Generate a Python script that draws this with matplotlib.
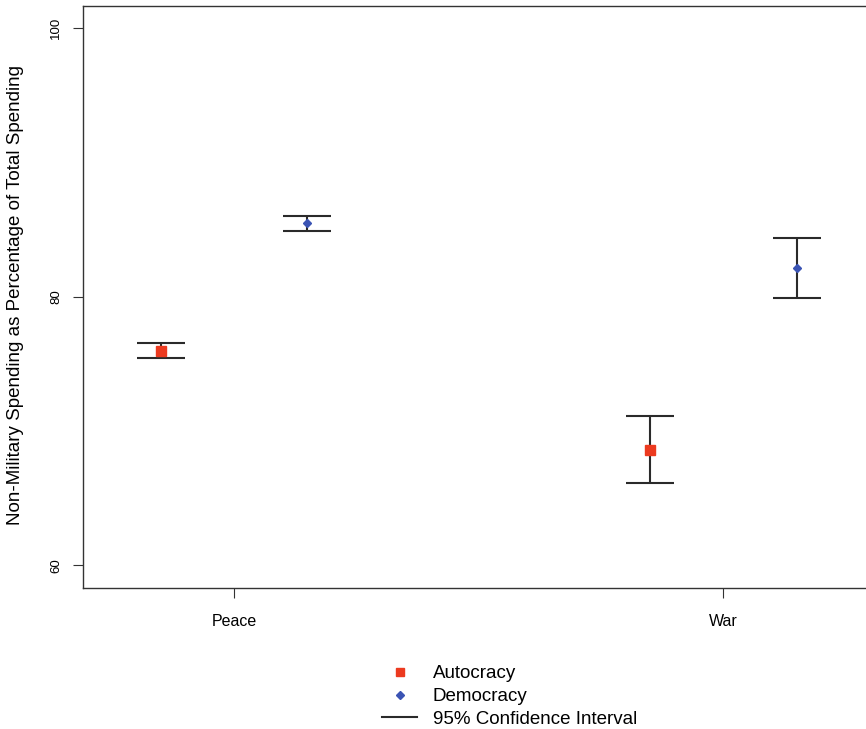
import matplotlib
matplotlib.use("Agg")
import matplotlib.pyplot as plt
from matplotlib.lines import Line2D

plt.rcParams['font.family'] = ['Liberation Sans', 'DejaVu Sans']

# data
conditions = ['Peace', 'War']
autocracy_mean = [75.98, 68.58]
autocracy_low = [75.43, 66.12]
autocracy_high = [76.55, 71.09]
democracy_mean = [85.46, 82.16]
democracy_low = [84.91, 79.87]
democracy_high = [86.03, 84.34]

x_base = [1, 2]
offset = 0.15

fig = plt.figure(figsize=(8.66, 7.29), dpi=100)
ax = fig.add_axes([83 / 866, 141 / 729, 1 - 83 / 866, 582 / 729])

ci_color = '#2a2a2a'
x_a = [x - offset for x in x_base]
x_d = [x + offset for x in x_base]

err_a = [[m - lo for m, lo in zip(autocracy_mean, autocracy_low)],
         [hi - m for m, hi in zip(autocracy_mean, autocracy_high)]]
err_d = [[m - lo for m, lo in zip(democracy_mean, democracy_low)],
         [hi - m for m, hi in zip(democracy_mean, democracy_high)]]

ax.errorbar(x_a, autocracy_mean, yerr=err_a, fmt='none', ecolor=ci_color,
            elinewidth=1.5, capsize=17.5, capthick=1.5, zorder=2)
ax.errorbar(x_d, democracy_mean, yerr=err_d, fmt='none', ecolor=ci_color,
            elinewidth=1.5, capsize=17.5, capthick=1.5, zorder=2)
ax.plot(x_a, autocracy_mean, 's', color='#ec3a1f', markersize=6.5, zorder=3)
ax.plot(x_d, democracy_mean, 'D', color='#3b54b4', markersize=4.2, zorder=3)

ax.set_xlim(0.691, 2.292)
ax.set_ylim(58.31, 101.64)
ax.set_xticks(x_base)
ax.set_xticklabels(conditions, fontsize=11.5)
ax.set_yticks([60, 80, 100])
ax.set_yticklabels(['60', '80', '100'], fontsize=9.5, rotation=90, va='center')
ax.tick_params(axis='x', length=7, width=0.8, pad=12, colors='#333333', labelcolor='black')
ax.tick_params(axis='y', length=7, width=0.8, pad=8, colors='#333333', labelcolor='black')
ax.spines['right'].set_visible(False)
for s in ['left', 'top', 'bottom']:
    ax.spines[s].set_linewidth(1.0)
    ax.spines[s].set_color('#333333')

fig.text(16 / 866, 1 - 295 / 729, 'Non-Military Spending as Percentage of Total Spending',
         rotation=90, ha='center', va='center', fontsize=13.5)

handles = [
    Line2D([], [], marker='s', color='#ec3a1f', linestyle='none', markersize=6),
    Line2D([], [], marker='D', color='#3b54b4', linestyle='none', markersize=4),
    Line2D([], [], color=ci_color, linewidth=1.5),
]
fig.legend(handles, ['Autocracy', 'Democracy', '95% Confidence Interval'],
           loc='upper left', bbox_to_anchor=(382 / 866, 1 - 665 / 729),
           frameon=False, fontsize=13.5, handlelength=1.87, handletextpad=0.85,
           labelspacing=0.31, borderaxespad=0, borderpad=0)

fig.savefig('out.png', dpi=100)
